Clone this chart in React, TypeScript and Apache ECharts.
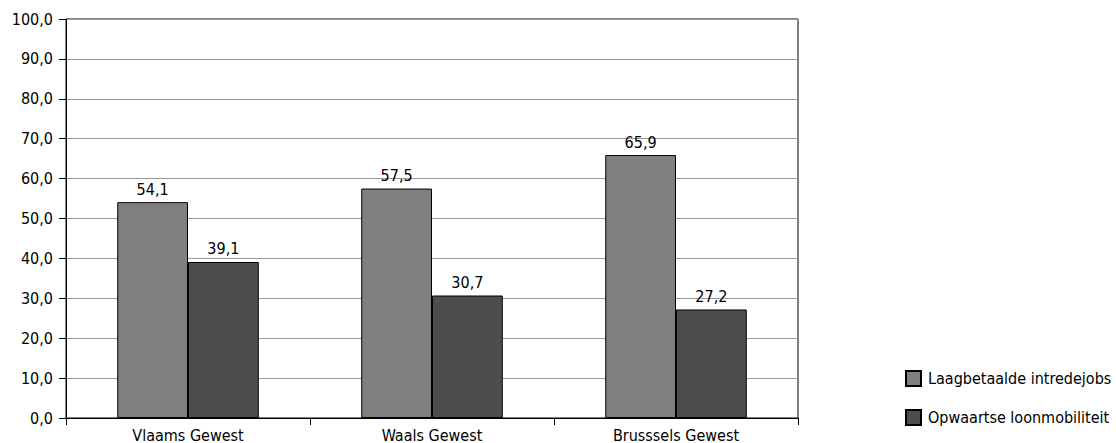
import React, { useEffect, useRef } from "react";
import * as echarts from "echarts";

const categories = ["Vlaams Gewest", "Waals Gewest", "Brusssels Gewest"];
const seriesNames = ["Laagbetaalde intredejobs", "Opwaartse loonmobiliteit"];
const lowPaid = [54.1, 57.5, 65.9];
const upward = [39.1, 30.7, 27.2];

const FONT = "'DejaVu Sans Condensed', 'DejaVu Sans', sans-serif";
const FS = 16;

export default function App() {
  const ref = useRef<HTMLDivElement>(null);
  useEffect(() => {
    if (!ref.current) return;
    const chart = echarts.init(ref.current, null, { renderer: "svg" });
    const fmt = (v: number) => v.toFixed(1).replace(".", ",");
    const label = {
      show: true,
      position: "top" as const,
      distance: 5,
      color: "#000",
      fontFamily: FONT,
      fontSize: FS,
      formatter: (p: any) => fmt(p.value),
    };
    chart.setOption({
      animation: false,
      backgroundColor: "#fff",
      textStyle: { fontFamily: FONT },
      grid: {
        left: 66,
        right: 318,
        top: 19,
        bottom: 25,
        show: true,
        borderColor: "#000",
        borderWidth: 1,
        containLabel: false,
      },
      legend: {
        orient: "vertical",
        left: 900,
        top: 365,
        itemWidth: 15,
        itemHeight: 15,
        itemGap: 22,
        icon: "rect",
        textStyle: { fontFamily: FONT, fontSize: FS, color: "#000", padding: [0, 0, 0, 2] },
        data: seriesNames,
      },
      xAxis: {
        type: "category",
        data: categories,
        axisLine: { lineStyle: { color: "#000", width: 1 } },
        axisTick: { show: true, length: 7, lineStyle: { color: "#000" } },
        axisLabel: { color: "#000", fontFamily: FONT, fontSize: FS, margin: 9 },
      },
      yAxis: {
        type: "value",
        min: 0,
        max: 100,
        interval: 10,
        axisLine: { show: true, lineStyle: { color: "#000", width: 1 } },
        axisTick: { show: true, length: 7, lineStyle: { color: "#000" } },
        axisLabel: {
          color: "#000",
          fontFamily: FONT,
          fontSize: FS,
          margin: 13,
          formatter: (v: number) => fmt(v),
        },
        splitLine: { show: true, lineStyle: { color: "#999", width: 1 } },
      },
      series: [
        {
          name: seriesNames[0],
          type: "bar",
          data: lowPaid,
          barGap: "0%",
          barCategoryGap: "42%",
          itemStyle: { color: "#808080", borderColor: "#000", borderWidth: 1 },
          label,
        },
        {
          name: seriesNames[1],
          type: "bar",
          data: upward,
          itemStyle: { color: "#4d4d4d", borderColor: "#000", borderWidth: 1 },
          label,
        },
      ],
    });
    return () => chart.dispose();
  }, []);
  return <div ref={ref} style={{ width: 1116, height: 443, position: "absolute", left: 0, top: 0 }} />;
}
